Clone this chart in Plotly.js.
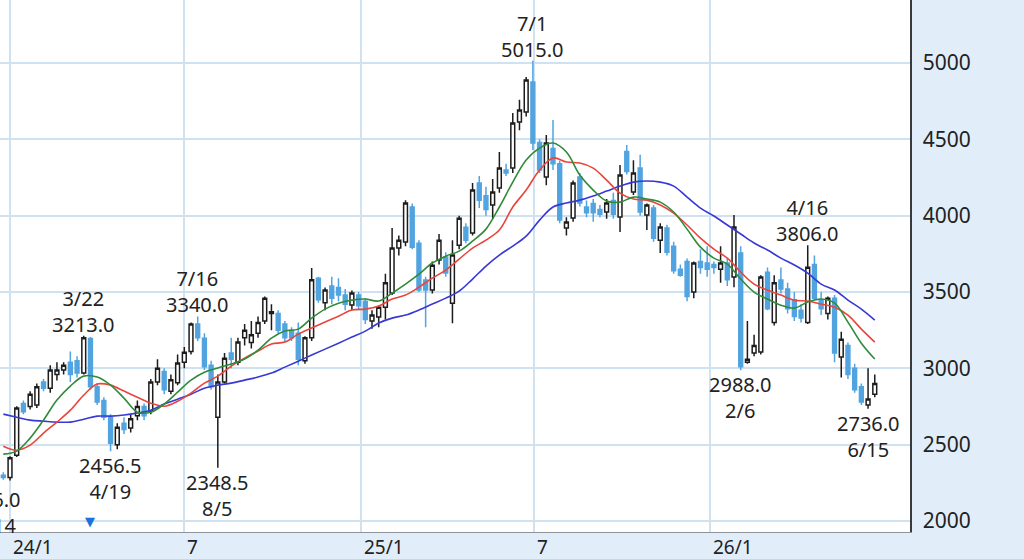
<!DOCTYPE html>
<html>
<head>
<meta charset="utf-8">
<script src="https://cdn.plot.ly/plotly-3.0.1.min.js"></script>
<style>
  html, body { margin: 0; padding: 0; background: #e1eef9; }
  #chart { width: 1024px; height: 559px; }
</style>
</head>
<body>
<div id="chart"></div>
<script>
// weekly candles (Monday of each week)
const weeks = [
  '2023-12-11', '2023-12-18', '2023-12-25',
  '2024-01-01', '2024-01-08', '2024-01-15', '2024-01-22', '2024-01-29',
  '2024-02-05', '2024-02-12', '2024-02-19', '2024-02-26',
  '2024-03-04', '2024-03-11', '2024-03-18', '2024-03-25',
  '2024-04-01', '2024-04-08', '2024-04-15', '2024-04-22', '2024-04-29',
  '2024-05-06', '2024-05-13', '2024-05-20', '2024-05-27',
  '2024-06-03', '2024-06-10', '2024-06-17', '2024-06-24',
  '2024-07-01', '2024-07-08', '2024-07-15', '2024-07-22', '2024-07-29',
  '2024-08-05', '2024-08-12', '2024-08-19', '2024-08-26',
  '2024-09-02', '2024-09-09', '2024-09-16', '2024-09-23', '2024-09-30',
  '2024-10-07', '2024-10-14', '2024-10-21', '2024-10-28',
  '2024-11-04', '2024-11-11', '2024-11-18', '2024-11-25',
  '2024-12-02', '2024-12-09', '2024-12-16', '2024-12-23', '2024-12-30',
  '2025-01-06', '2025-01-13', '2025-01-20', '2025-01-27',
  '2025-02-03', '2025-02-10', '2025-02-17', '2025-02-24',
  '2025-03-03', '2025-03-10', '2025-03-17', '2025-03-24', '2025-03-31',
  '2025-04-07', '2025-04-14', '2025-04-21', '2025-04-28',
  '2025-05-05', '2025-05-12', '2025-05-19', '2025-05-26',
  '2025-06-02', '2025-06-09', '2025-06-16', '2025-06-23', '2025-06-30',
  '2025-07-07', '2025-07-14', '2025-07-21', '2025-07-28',
  '2025-08-04', '2025-08-11', '2025-08-18', '2025-08-25',
  '2025-09-01', '2025-09-08', '2025-09-15', '2025-09-22', '2025-09-29',
  '2025-10-06', '2025-10-13', '2025-10-20', '2025-10-27',
  '2025-11-03', '2025-11-10', '2025-11-17', '2025-11-24',
  '2025-12-01', '2025-12-08', '2025-12-15', '2025-12-22', '2025-12-29',
  '2026-01-05', '2026-01-12', '2026-01-19', '2026-01-26',
  '2026-02-02', '2026-02-09', '2026-02-16', '2026-02-23',
  '2026-03-02', '2026-03-09', '2026-03-16', '2026-03-23', '2026-03-30',
  '2026-04-06', '2026-04-13', '2026-04-20', '2026-04-27',
  '2026-05-04', '2026-05-11', '2026-05-18', '2026-05-25',
  '2026-06-01', '2026-06-08', '2026-06-15', '2026-06-22'
];

const opens = [
  2320, 2300, 2300,
  2285, 2430, 2770, 2750, 2760, 2910, 2870, 2960, 2990, 3040, 3050, 2970, 3195,
  2880, 2790, 2680, 2500, 2640, 2610, 2690, 2750, 2720, 2910, 2980, 2850, 2905,
  3040, 3110, 3290, 3198, 3020, 2680, 2910, 3100, 3040, 3200, 3170, 3230, 3310, 3360,
  3360, 3290, 3250, 3230, 3050, 3200, 3590, 3430, 3540, 3530, 3480, 3415, 3480,
  3440, 3310, 3337, 3400, 3493, 3788, 3827, 4057, 3820, 3578, 3513, 3709, 3729,
  3427, 3807, 3925, 3886, 4214, 4130, 4070, 4181, 4300, 4312, 4614, 4679, 4876,
  4480, 4253, 4440, 4340, 3920, 3985, 4253, 4057, 4080, 4040, 4024, 4100, 3991,
  4420, 4155, 4312, 4004, 4050, 3840, 3919, 3800, 3650, 3700, 3500, 3700, 3690,
  3680, 3650, 3690, 3598, 3755, 3040, 3100, 3107, 3630, 3300, 3578, 3520, 3450,
  3380, 3300, 3680, 3450, 3360, 3460, 3075, 3150, 3000, 2880, 2760, 2830
];
const highs = [
  2360, 2340, 2320,
  2425, 2752, 2790, 2850, 2900, 2930, 3020, 3040, 3040, 3110, 3080, 3213, 3205,
  2900, 2810, 2700, 2640, 2680, 2700, 2790, 2770, 2930, 3060, 3000, 2960, 3090,
  3140, 3300, 3340, 3230, 3050, 2960, 3100, 3200, 3200, 3290, 3310, 3340, 3470, 3420,
  3380, 3310, 3270, 3300, 3210, 3657, 3600, 3530, 3600, 3590, 3520, 3510, 3500,
  3460, 3380, 3410, 3620, 3919, 3870, 4102, 4080, 3840, 3600, 3700, 3880, 3760,
  3840, 4000, 3950, 4214, 4260, 4190, 4240, 4417, 4340, 4672, 4760, 4908, 5015,
  4500, 4528, 4627, 4360, 3990, 4230, 4280, 4100, 4110, 4070, 4110, 4150, 4332,
  4463, 4364, 4400, 4080, 4070, 3950, 3940, 3830, 3680, 3720, 3700, 3780, 3800,
  3700, 3800, 3720, 4004, 3800, 3310, 3220, 3610, 3660, 3610, 3660, 3560, 3500,
  3420, 3806, 3740, 3500, 3470, 3480, 3240, 3170, 3030, 2900, 3000, 2960
];
const lows = [
  2236, 2265, 2270,
  2265, 2420, 2700, 2730, 2740, 2850, 2840, 2920, 2960, 2910, 2940, 2960, 2860,
  2760, 2660, 2456.5, 2470, 2570, 2580, 2660, 2660, 2700, 2890, 2830, 2830, 2890,
  3000, 3090, 3180, 2990, 2860, 2348.5, 2900, 3000, 3020, 3150, 3130, 3200, 3290, 3250,
  3230, 3170, 3180, 3020, 3030, 3180, 3430, 3380, 3420, 3440, 3380, 3380, 3380,
  3290, 3260, 3270, 3320, 3480, 3740, 3800, 3780, 3500, 3270, 3490, 3680, 3600,
  3296, 3780, 3820, 3870, 4050, 4000, 3980, 4150, 4260, 4280, 4560, 4650, 4430,
  4280, 4200, 4300, 3950, 3870, 3960, 4060, 3990, 3960, 3990, 3980, 3980, 3893,
  4270, 4135, 4000, 3906, 3830, 3755, 3740, 3620, 3600, 3440, 3460, 3620, 3600,
  3620, 3560, 3540, 3532, 2988, 3030, 3080, 3090, 3380, 3280, 3490, 3360, 3310,
  3300, 3290, 3450, 3350, 3320, 3040, 2940, 2930, 2840, 2760, 2736, 2810
];
const closes = [
  2300, 2280, 2285,
  2415, 2740, 2715, 2830, 2880, 2870, 2990, 2990, 3020, 2960, 2970, 3200, 2880,
  2780, 2680, 2510, 2615, 2600, 2670, 2750, 2690, 2910, 3000, 2860, 2925, 3035,
  3105, 3290, 3200, 3010, 2880, 2910, 3067, 3060, 3172, 3250, 3220, 3300, 3460, 3370,
  3250, 3200, 3200, 3060, 3200, 3580, 3450, 3513, 3460, 3480, 3420, 3493, 3410,
  3320, 3350, 3400, 3560, 3788, 3840, 4083, 3794, 3513, 3513, 3676, 3840, 3624,
  3742, 3984, 3840, 4168, 4102, 4040, 4155, 4312, 4280, 4607, 4692, 4889, 4476,
  4300, 4476, 4340, 3972, 3958, 4214, 4083, 4020, 4020, 4010, 4083, 4010, 4266,
  4290, 4279, 4024, 4070, 3853, 3926, 3760, 3640, 3610, 3470, 3690, 3660, 3650,
  3660, 3690, 3580, 3926, 3010, 3060, 3150, 3598, 3390, 3560, 3520, 3390, 3340,
  3330, 3663, 3460, 3390, 3460, 3100, 3190, 2960, 2860, 2780, 2800, 2900
];

// moving averages, read every second week from 2023-12-25
const ma13 = [
  2438, 2458, 2543, 2661, 2792, 2884, 2949, 2943, 2890, 2805, 2713, 2713, 2766,
  2844, 2923, 2975, 3002, 3028, 3061, 3119, 3198, 3244, 3257, 3329, 3388, 3427,
  3447, 3454, 3441, 3493, 3552, 3617, 3690, 3735, 3768, 3834, 3912, 4057, 4220,
  4365, 4443, 4476, 4417, 4266, 4168, 4096, 4089, 4122, 4109, 4089, 4024, 3912,
  3794, 3722, 3683, 3585, 3500, 3454, 3414, 3395, 3434, 3454, 3427, 3303, 3165, 3061
];
const ma26 = [
  2490, 2464, 2497, 2576, 2648, 2726, 2825, 2897, 2890, 2851, 2811, 2772, 2752,
  2785, 2838, 2903, 2949, 3015, 3067, 3113, 3159, 3172, 3224, 3264, 3303, 3342,
  3382, 3388, 3408, 3454, 3480, 3532, 3591, 3644, 3716, 3788, 3840, 3906, 4057,
  4168, 4299, 4378, 4352, 4345, 4312, 4233, 4148, 4109, 4102, 4070, 4017, 3939,
  3853, 3781, 3722, 3631, 3552, 3513, 3480, 3447, 3441, 3421, 3401, 3349, 3257, 3172
];
const ma52 = [
  2700, 2680, 2661, 2654, 2648, 2648, 2667, 2687, 2687, 2694, 2707, 2726, 2766,
  2798, 2831, 2870, 2890, 2903, 2923, 2943, 2969, 3008, 3047, 3087, 3126, 3165,
  3205, 3244, 3297, 3329, 3349, 3382, 3421, 3460, 3506, 3585, 3670, 3742, 3801,
  3866, 3971, 4057, 4083, 4102, 4129, 4161, 4194, 4220, 4227, 4220, 4194, 4122,
  4050, 3998, 3939, 3880, 3821, 3775, 3722, 3677, 3624, 3552, 3513, 3447, 3388, 3316
];
const maWeeks = weeks.slice(2).filter((d, i) => i % 2 === 0);

// high / low labels
const markWeeks = ['2023-12-11', '2024-03-18', '2024-04-15', '2024-07-15', '2024-08-05',
                   '2025-06-30', '2026-02-02', '2026-04-13', '2026-06-15'];
const markDays = ['12/14', '3/22', '4/19', '7/16', '8/5', '7/1', '2/6', '4/16', '6/15'];
const markPrices = [2236.0, 3213.0, 2456.5, 3340.0, 2348.5, 5015.0, 2988.0, 3806.0, 2736.0];
const markKinds = ['low', 'high', 'low', 'high', 'low', 'high', 'low', 'high', 'low'];

const gridDates = ['2024-01-01', '2024-07-01', '2025-01-01', '2025-07-01', '2026-01-01'];
const gridLabels = ['24/1', '7', '25/1', '7', '26/1'];
const eventWeeks = ['2024-03-25'];
const priceTicks = [2000, 2500, 3000, 3500, 4000, 4500, 5000];

const xStart = '2023-12-21 13:00';
const xEnd = '2026-07-28 19:00';
const plotWidth = 910;
const pxPerDay = plotWidth / ((Date.parse(xEnd) - Date.parse(xStart)) / 86400000);

const font = 'Noto Sans, DejaVu Sans, sans-serif';
const gridColor = '#cfe2f2';

const traces = [
  {
    type: 'candlestick',
    x: weeks, open: opens, high: highs, low: lows, close: closes,
    increasing: { line: { color: '#1c1c1c', width: 1.5 }, fillcolor: '#ffffff' },
    decreasing: { line: { color: '#52a4e0', width: 1.5 }, fillcolor: '#52a4e0' },
    whiskerwidth: 0,
    hoverinfo: 'skip',
    showlegend: false
  },
  { x: maWeeks, y: ma52, type: 'scatter', mode: 'lines', line: { color: '#3838d4', width: 1.6, shape: 'spline' }, hoverinfo: 'skip' },
  { x: maWeeks, y: ma26, type: 'scatter', mode: 'lines', line: { color: '#e8463c', width: 1.6, shape: 'spline' }, hoverinfo: 'skip' },
  { x: maWeeks, y: ma13, type: 'scatter', mode: 'lines', line: { color: '#2f8b3a', width: 1.6, shape: 'spline' }, hoverinfo: 'skip' }
];

const annotations = [];

for (let i = 0; i < markWeeks.length; i++) {
    const isHigh = markKinds[i] === 'high';
    const price = markPrices[i].toFixed(1);
    let x = markWeeks[i];
    let xshift = 0;
    // labels whose candle sits left of the view are pinned to the edge and shifted out
    if (Date.parse(x) < Date.parse(xStart)) {
        xshift = (Date.parse(x) - Date.parse(xStart)) / 86400000 * pxPerDay;
        x = xStart;
    }
    annotations.push({
        x: x, y: markPrices[i], xref: 'x', yref: 'y',
        text: isHigh ? `${markDays[i]}<br>${price}` : `${price}<br>${markDays[i]}`,
        showarrow: false,
        xanchor: 'center',
        yanchor: isHigh ? 'bottom' : 'top',
        xshift: xshift,
        yshift: isHigh ? -4 : 1,
        font: { family: font, size: 20, color: '#222' }
    });
}

for (let i = 0; i < gridDates.length; i++) {
    annotations.push({
        x: gridDates[i], y: 0, xref: 'x', yref: 'paper',
        text: gridLabels[i], showarrow: false,
        xanchor: 'left', yanchor: 'top', xshift: 1,
        font: { family: font, size: 19, color: '#222' }
    });
}

for (const d of eventWeeks) {
    annotations.push({
        x: d, y: 0, xref: 'x', yref: 'paper',
        text: '▼', showarrow: false,
        xanchor: 'center', yanchor: 'bottom', yshift: 1,
        font: { family: 'DejaVu Sans, sans-serif', size: 13, color: '#2070dc' }
    });
}

const layout = {
    width: 1024,
    height: 559,
    margin: { l: 0, r: 114, t: 0, b: 27, pad: 0 },
    paper_bgcolor: '#e1eef9',
    plot_bgcolor: '#ffffff',
    showlegend: false,
    boxgap: 0.18,
    font: { family: font, color: '#222' },
    xaxis: {
        type: 'date',
        range: [xStart, xEnd],
        tickmode: 'array',
        tickvals: gridDates,
        showticklabels: false,
        ticks: '',
        showgrid: true,
        gridcolor: gridColor,
        gridwidth: 2,
        showline: true,
        linecolor: '#8d949c',
        linewidth: 1,
        zeroline: false,
        rangeslider: { visible: false },
        fixedrange: true
    },
    yaxis: {
        side: 'right',
        range: [1928, 5413],
        tickmode: 'array',
        tickvals: priceTicks,
        ticktext: priceTicks.map(String),
        ticks: '',
        ticklabelstandoff: 7,
        tickfont: { family: font, size: 21, color: '#222' },
        showgrid: true,
        gridcolor: gridColor,
        gridwidth: 2,
        showline: true,
        linecolor: '#3a3a3a',
        linewidth: 1.5,
        zeroline: false,
        fixedrange: true
    },
    annotations: annotations
};

Plotly.newPlot('chart', traces, layout, { staticPlot: true, displayModeBar: false });
</script>
</body>
</html>
